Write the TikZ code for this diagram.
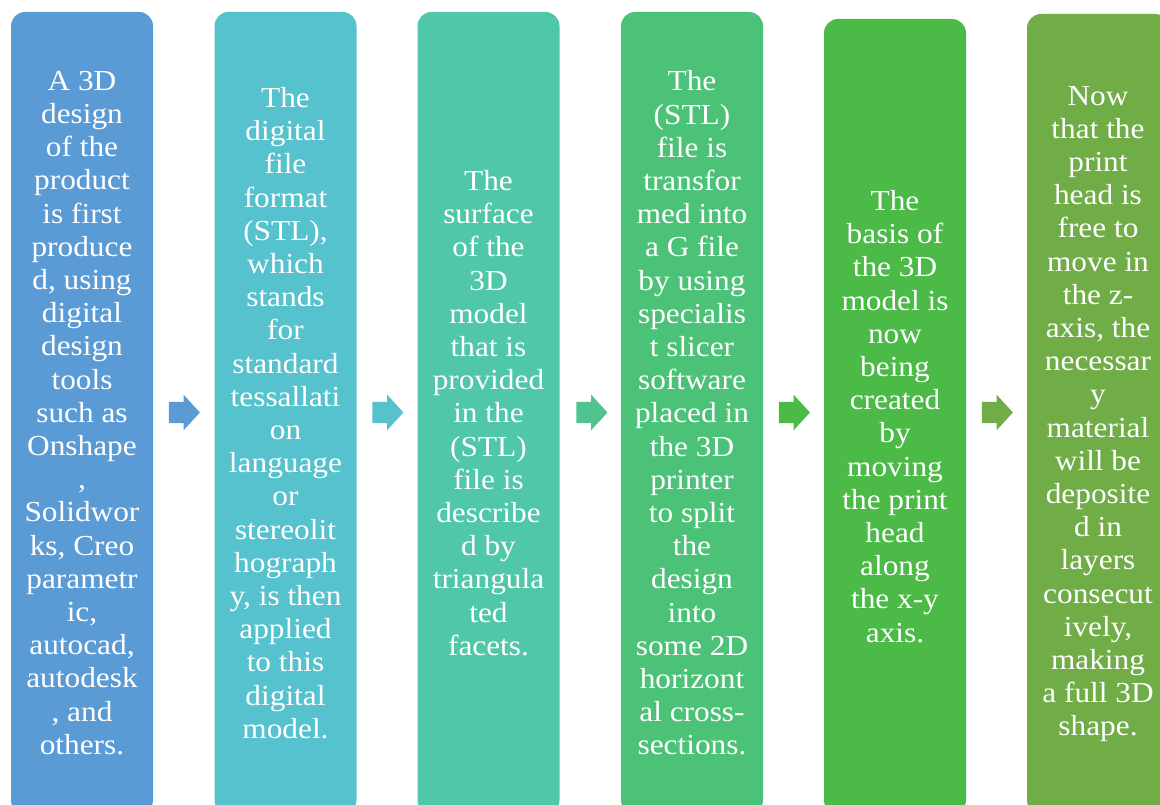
\documentclass[tikz,border=0pt]{standalone}
\usepackage{fontspec}
\setmainfont{Liberation Serif}[FakeStretch=1.08]
\usetikzlibrary{shapes.arrows,calc}
\definecolor{cA}{HTML}{5B9BD5}
\definecolor{cB}{HTML}{55C2CE}
\definecolor{cC}{HTML}{50C7A8}
\definecolor{cD}{HTML}{4CC278}
\definecolor{cE}{HTML}{4BBA47}
\definecolor{cF}{HTML}{70AD47}
\definecolor{aC}{HTML}{4FC490}
\tikzset{
  stepbox/.style={rectangle, rounded corners=14pt, minimum width=142pt, inner sep=0pt,
    text=white, align=center, font=\fontsize{29}{33.2}\selectfont},
  blockarrow/.style={single arrow, minimum height=31pt, minimum width=35pt,
    text height=10.5pt, text depth=10.5pt, text width=0pt,
    single arrow head extend=7pt, single arrow tip angle=95, inner sep=0pt, draw=none}
}
\begin{document}
\begin{tikzpicture}[x=1pt,y=1pt]
\clip (0,0) rectangle (1160,805);
\fill[white] (0,0) rectangle (1160,805);
\node[stepbox, fill=cA, minimum height=802pt] (b1) at (82,392) {A 3D\\design\\of the\\product\\is first\\produce\\d, using\\digital\\design\\tools\\such as\\Onshape\\,\\Solidwor\\ks, Creo\\parametr\\ic,\\autocad,\\autodesk\\, and\\others.};
\node[stepbox, fill=cB, minimum height=802pt] (b2) at (285.5,392) {The\\digital\\file\\format\\(STL),\\which\\stands\\for\\standard\\tessallati\\on\\language\\or\\stereolit\\hograph\\y, is then\\applied\\to this\\digital\\model.};
\node[stepbox, fill=cC, minimum height=802pt] (b3) at (488.5,392) {The\\surface\\of the\\3D\\model\\that is\\provided\\in the\\(STL)\\file is\\describe\\d by\\triangula\\ted\\facets.};
\node[stepbox, fill=cD, minimum height=802pt] (b4) at (692,392) {The\\(STL)\\file is\\transfor\\med into\\a G file\\by using\\specialis\\t slicer\\software\\placed in\\the 3D\\printer\\to split\\the\\design\\into\\some 2D\\horizont\\al cross-\\sections.};
\node[stepbox, fill=cE, minimum height=795pt] (b5) at (895,388.5) {The\\basis of\\the 3D\\model is\\now\\being\\created\\by\\moving\\the print\\head\\along\\the x-y\\axis.};
\node[stepbox, fill=cF, minimum height=800pt] (b6) at (1098,391) {Now\\that the\\print\\head is\\free to\\move in\\the z-\\axis, the\\necessar\\y\\material\\will be\\deposite\\d in\\layers\\consecut\\ively,\\making\\a full 3D\\shape.};
\node[blockarrow, fill=cA] (a1) at (179.5,392.5) {};
\node[blockarrow, fill=cB] (a2) at (383,392.5) {};
\node[blockarrow, fill=aC] (a3) at (587,392.5) {};
\node[blockarrow, fill=cE] (a4) at (789.5,392.5) {};
\node[blockarrow, fill=cF] (a5) at (992.5,392.5) {};
\end{tikzpicture}
\end{document}
